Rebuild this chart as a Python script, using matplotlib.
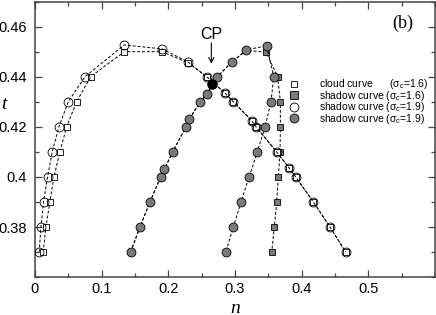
import matplotlib

matplotlib.use("Agg")
import matplotlib.pyplot as plt
from matplotlib.lines import Line2D
from matplotlib.ticker import MultipleLocator

plt.rcParams["font.family"] = ["Liberation Sans", "DejaVu Sans"]
plt.rcParams["mathtext.fontset"] = "custom"
plt.rcParams["mathtext.rm"] = "Liberation Sans"
plt.rcParams["mathtext.it"] = "Liberation Sans:italic"

# cloud curve, sigma_c = 1.6 (open squares)
cloud16_n = [0.0125, 0.0165, 0.0225, 0.0285, 0.0375, 0.0475, 0.0625, 0.0835, 0.134, 0.191,
             0.23, 0.2575, 0.285, 0.2975, 0.325, 0.3315, 0.3625, 0.3815, 0.391, 0.4175,
             0.4425, 0.466]
cloud16_t = [0.37, 0.38, 0.39, 0.40, 0.41, 0.42, 0.43, 0.44, 0.450, 0.450,
             0.4455, 0.44, 0.4335, 0.43, 0.4225, 0.42, 0.41, 0.4035, 0.40, 0.39,
             0.38, 0.37]

# open circles, sigma_c = 1.9
cloud19_n = [0.0065, 0.009, 0.013, 0.019, 0.026, 0.036, 0.05, 0.075, 0.134, 0.191,
             0.23, 0.2575, 0.285, 0.2975, 0.325, 0.3315, 0.3625, 0.3815, 0.391, 0.4175,
             0.4425, 0.466]
cloud19_t = [0.37, 0.38, 0.39, 0.40, 0.41, 0.42, 0.43, 0.44, 0.4527, 0.4511,
             0.4458, 0.44, 0.4335, 0.43, 0.4225, 0.42, 0.41, 0.4035, 0.40, 0.39,
             0.38, 0.37]

# shadow curve, sigma_c = 1.6 (filled squares)
shadow16_n = [0.1435, 0.1575, 0.1725, 0.1885, 0.194, 0.2065, 0.2265, 0.2315, 0.2475, 0.2575,
              0.2735, 0.295, 0.317, 0.3465, 0.364, 0.368, 0.368, 0.3675, 0.365, 0.3625,
              0.359, 0.355]
shadow16_t = [0.37, 0.38, 0.39, 0.40, 0.403, 0.41, 0.42, 0.423, 0.43, 0.433,
              0.44, 0.4458, 0.4505, 0.4498, 0.44, 0.43, 0.42, 0.41, 0.40, 0.39,
              0.38, 0.37]

# shadow curve, sigma_c = 1.9 (filled circles)
shadow19_n = [0.1435, 0.1575, 0.1725, 0.1885, 0.194, 0.2065, 0.2265, 0.2315, 0.2475, 0.2575,
              0.2735, 0.295, 0.317, 0.3475, 0.358, 0.354, 0.345, 0.3335, 0.321, 0.309,
              0.2975, 0.286]
shadow19_t = [0.37, 0.38, 0.39, 0.40, 0.403, 0.41, 0.42, 0.423, 0.43, 0.433,
              0.44, 0.4458, 0.4507, 0.4524, 0.44, 0.43, 0.42, 0.41, 0.40, 0.39,
              0.38, 0.37]

cp_n, cp_t = 0.266, 0.437

labels = ["cloud curve      (σ$_c$=1.6)", "shadow curve (σ$_c$=1.6)",
          "shadow curve (σ$_c$=1.9)", "shadow curve (σ$_c$=1.9)"]

GREY = "#7a7a7a"
SPINE = "#444444"

fig = plt.figure(figsize=(4.36, 3.15), dpi=100)
ax = fig.add_axes([0.080, 0.120, 0.918, 0.875])

line_kw = dict(color="black", lw=0.7, ls=(0, (3, 2)), mew=0.6, mec="black")
ax.plot(shadow16_n, shadow16_t, marker="s", ms=4.6, mfc=GREY, zorder=2, **line_kw)
ax.plot(shadow19_n, shadow19_t, marker="o", ms=6.4, mfc=GREY, zorder=3, **line_kw)
ax.plot(cloud16_n, cloud16_t, marker="s", ms=5.0, mfc="white", zorder=4, **line_kw)
ax.plot(cloud19_n, cloud19_t, marker="o", ms=6.4, mfc="none", zorder=5, **line_kw)
ax.plot([cp_n], [cp_t], marker="o", ms=6.6, color="black", ls="none", zorder=6)

ax.annotate("", xy=(0.2645, 0.4452), xytext=(0.2645, 0.4535),
            arrowprops=dict(arrowstyle="->", lw=0.8, color="black",
                            mutation_scale=9, shrinkA=0, shrinkB=0))
ax.text(0.2645, 0.4568, "CP", ha="center", va="center", fontsize=11.5)
ax.text(0.552, 0.4615, "(b)", ha="center", va="center", fontsize=13,
        family="Liberation Serif")

ax.set_xlim(0, 0.6)
ax.set_ylim(0.36, 0.47)
ax.set_xticks([0, 0.1, 0.2, 0.3, 0.4, 0.5])
ax.set_xticklabels(["0", "0.1", "0.2", "0.3", "0.4", "0.5"])
ax.set_yticks([0.38, 0.40, 0.42, 0.44, 0.46])
ax.set_yticklabels(["0.38", "0.4", "0.42", "0.44", "0.46"])
ax.xaxis.set_minor_locator(MultipleLocator(0.05))
ax.yaxis.set_minor_locator(MultipleLocator(0.01))
ax.tick_params(which="both", direction="in", top=True, right=True,
               color=SPINE, width=0.9, labelsize=10.5)
ax.tick_params(which="major", length=5)
ax.tick_params(which="minor", length=3)
ax.tick_params(axis="y", pad=5.5)
ax.tick_params(axis="x", pad=3.5)
for s in ax.spines.values():
    s.set_color(SPINE)
    s.set_linewidth(1.1)

ax.set_xlabel("n", family="Liberation Serif", style="italic", fontsize=14, labelpad=0)
ax.set_ylabel("t", family="Liberation Serif", style="italic", fontsize=14,
              rotation=0, labelpad=0, va="center", ha="center")
ax.yaxis.set_label_coords(-0.078, 0.625)
ax.xaxis.set_label_coords(0.5, -0.081)

proxies = [
    Line2D([], [], ls="none", marker="s", ms=5.0, mfc="white", mec="black", mew=0.6),
    Line2D([], [], ls="none", marker="s", ms=5.4, mfc=GREY, mec="black", mew=0.6),
    Line2D([], [], ls="none", marker="o", ms=6.4, mfc="white", mec="black", mew=0.6),
    Line2D([], [], ls="none", marker="o", ms=6.4, mfc=GREY, mec="black", mew=0.6),
]
ax.legend(proxies, labels, loc="upper left", bbox_to_anchor=(0.634, 0.725),
          frameon=False, fontsize=7.5, handlelength=1.0, handletextpad=1.9,
          labelspacing=-0.25, borderpad=0, borderaxespad=0)

fig.savefig("out.png", dpi=100)
